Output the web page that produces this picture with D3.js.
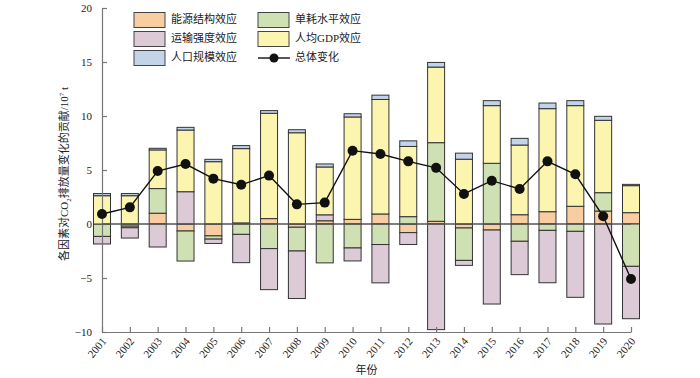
<!DOCTYPE html>
<html><head><meta charset="utf-8">
<script src="https://cdn.jsdelivr.net/npm/d3@7"></script>
<style>
body{margin:0;background:#fff;}
svg{display:block;}
text{font-family:"Liberation Serif","Noto Sans CJK SC",serif;fill:#222;}
</style></head>
<body><svg id="c" width="700" height="378"></svg>
<script>
const years = [2001,2002,2003,2004,2005,2006,2007,2008,2009,2010,2011,2012,2013,2014,2015,2016,2017,2018,2019,2020];
const energyStructure = [0,-0.2,1.0,-0.65,-1.1,0.1,0.5,-0.3,0.3,0.43,0.93,-0.8,0.25,-0.37,-0.56,0.86,1.14,1.64,1.2,1.05];
const unitConsumption = [-1.15,-0.15,2.28,-2.78,-0.3,-0.96,-2.28,-2.2,-3.6,-2.22,-1.9,0.68,7.28,-3.0,5.62,-1.6,-0.59,-0.68,1.7,-3.92];
const transportIntensity = [-0.7,-0.95,-2.13,2.99,-0.4,-2.62,-3.8,-4.4,0.55,-1.2,-3.55,-1.1,-9.78,-0.46,-6.85,-3.09,-4.85,-6.11,-9.26,-4.85];
const gdpPerCapita = [2.62,2.62,3.58,5.71,5.77,6.88,9.75,8.45,4.43,9.48,10.6,6.5,7.0,6.0,5.34,6.45,9.54,9.32,6.7,2.5];
const population = [0.2,0.2,0.15,0.25,0.22,0.28,0.25,0.28,0.28,0.3,0.4,0.52,0.43,0.56,0.46,0.62,0.52,0.46,0.37,0.12];
const totalChange = [0.93,1.54,4.9,5.55,4.2,3.64,4.48,1.82,1.98,6.79,6.48,5.8,5.2,2.78,4.01,3.24,5.8,4.6,0.71,-5.09];
const seriesNames = ["能源结构效应","单耗水平效应","运输强度效应","人均GDP效应","人口规模效应"];
const seriesColors = ["#F8CDA2","#CFE1B3","#DCCAD7","#FCF5B0","#C2D4E8"];
const yTicks = [-10,-5,0,5,10,15,20];
const xTitle = "年份";

const seriesData = [energyStructure,unitConsumption,transportIntensity,gdpPerCapita,population];
const keys = seriesNames;
const table = years.map((y,i)=>{const o={year:y}; keys.forEach((k,j)=>o[k]=seriesData[j][i]); return o;});

const svg = d3.select("#c");
const x = d3.scalePoint().domain(years).range([102,631]);
const y = d3.scaleLinear().domain([-10,20]).range([332,8]);
const bw = 17;

const stack = d3.stack().keys(keys).offset(d3.stackOffsetDiverging);
const stacked = stack(table);

const gBars = svg.append("g");
stacked.forEach((s,j)=>{
  gBars.selectAll(null).data(s).enter().append("rect")
    .attr("x",d=>x(d.data.year)-bw/2)
    .attr("width",bw)
    .attr("y",d=>y(Math.max(d[0],d[1])))
    .attr("height",d=>Math.abs(y(d[0])-y(d[1])))
    .attr("fill",seriesColors[j])
    .attr("stroke","#333")
    .attr("stroke-width",1);
});

// axes
const yAxis = d3.axisLeft(y).tickValues(yTicks).tickSizeInner(-5).tickSizeOuter(0).tickPadding(10)
  .tickFormat(d=>d<0?"\u2212"+Math.abs(d):d);
const gy = svg.append("g").attr("transform","translate(102,0)").call(yAxis);
gy.selectAll("path,line").attr("stroke","#777").attr("stroke-width",1.2);
gy.selectAll("text").attr("font-size",11).attr("fill","#222").style("font-family","Liberation Serif");

const xAxis = d3.axisBottom(x).tickSizeInner(-5).tickSizeOuter(0).tickFormat("");
const gx = svg.append("g").attr("transform","translate(0,332)").call(xAxis);
gx.selectAll("path,line").attr("stroke","#777").attr("stroke-width",1.2);

svg.append("g").selectAll("text").data(years).enter().append("text")
  .attr("transform",d=>`translate(${x(d)+3},${340}) rotate(-50)`)
  .attr("text-anchor","end")
  .attr("dominant-baseline","middle")
  .attr("font-size",11)
  .style("font-family","Liberation Serif")
  .text(d=>d);

// zero line
svg.append("line").attr("x1",x.range()[0]).attr("x2",x.range()[1])
  .attr("y1",y(0)).attr("y2",y(0)).attr("stroke","#555").attr("stroke-width",1.3);

// total line
const line = d3.line().x((d,i)=>x(years[i])).y(d=>y(d));
svg.append("path").datum(totalChange).attr("d",line).attr("fill","none").attr("stroke","#111").attr("stroke-width",1.4);
svg.append("g").selectAll("circle").data(totalChange).enter().append("circle")
  .attr("cx",(d,i)=>x(years[i])).attr("cy",d=>y(d)).attr("r",5).attr("fill","#111");

// y title
const yt = svg.append("text").attr("transform","translate(68,174) rotate(-90)")
  .attr("text-anchor","middle").attr("font-size",11);
yt.append("tspan").text("各因素对CO");
yt.append("tspan").attr("font-size",7).attr("dy",3).text("2");
yt.append("tspan").attr("dy",-3).text("排放量变化的贡献/10");
yt.append("tspan").attr("font-size",7).attr("dy",-4).text("7");
yt.append("tspan").attr("dy",4).text(" t");

svg.append("text").attr("x",(x.range()[0]+x.range()[1])/2).attr("y",374)
  .attr("text-anchor","middle").attr("font-size",11).text(xTitle);

// legend
const legendItems = [
  {name:seriesNames[0],color:seriesColors[0],col:0,row:0},
  {name:seriesNames[1],color:seriesColors[1],col:1,row:0},
  {name:seriesNames[2],color:seriesColors[2],col:0,row:1},
  {name:seriesNames[3],color:seriesColors[3],col:1,row:1},
  {name:seriesNames[4],color:seriesColors[4],col:0,row:2}
];
const colX=[134,258], rowY=[12.5,31.5,50.5];
const lg = svg.append("g");
legendItems.forEach(it=>{
  lg.append("rect").attr("x",colX[it.col]).attr("y",rowY[it.row]).attr("width",31).attr("height",15)
    .attr("fill",it.color).attr("stroke","#444").attr("stroke-width",1);
  lg.append("text").attr("x",colX[it.col]+37).attr("y",rowY[it.row]+8).attr("dominant-baseline","middle")
    .attr("font-size",11).text(it.name);
});
lg.append("line").attr("x1",258).attr("x2",290).attr("y1",rowY[2]+7.5).attr("y2",rowY[2]+7.5).attr("stroke","#111").attr("stroke-width",1.4);
lg.append("circle").attr("cx",274).attr("cy",rowY[2]+7.5).attr("r",4.5).attr("fill","#111");
lg.append("text").attr("x",295).attr("y",rowY[2]+8).attr("dominant-baseline","middle").attr("font-size",11).text("总体变化");
</script></body></html>
